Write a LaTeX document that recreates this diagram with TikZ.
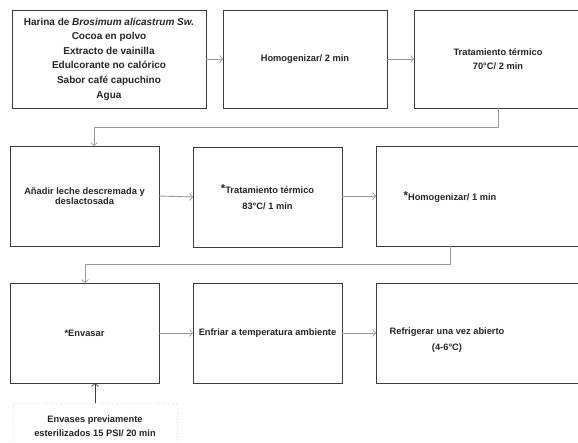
\documentclass[tikz,border=0pt]{standalone}
\usepackage{fontspec}
\setmainfont{Liberation Sans}
\usetikzlibrary{arrows.meta}
\definecolor{boxc}{HTML}{3C3C3C}
\definecolor{arrc}{HTML}{9A9A9A}
\definecolor{faint}{HTML}{E2E2E2}
\begin{document}
\begin{tikzpicture}[x=1pt,y=-1pt,
  stepbox/.style={draw=boxc, line width=0.9pt, inner sep=0pt, outer sep=0pt, rectangle},
  txt/.style={font=\bfseries\fontsize{9.3}{14}\selectfont, align=center, inner sep=0pt, text=black!85},
  arr/.style={draw=arrc, line width=0.9pt, -{Straight Barb[length=3pt,width=7pt,line width=0.7pt]}},
  arrdark/.style={draw=boxc, line width=0.9pt, -{Straight Barb[length=3pt,width=7pt,line width=0.7pt]}},
  bigast/.style={}]
\path[use as bounding box, clip] (0,0) rectangle (578,442);
\fill[white] (0,0) rectangle (578,442);
% row 1
\node[stepbox, minimum width=194pt, minimum height=98pt, txt, font=\bfseries\fontsize{10}{14.6}\selectfont] (b1) at (109,59)
  {Harina de \textit{Brosimum alicastrum Sw.}\\Cocoa en polvo\\Extracto de vainilla\\Edulcorante no calórico\\Sabor café capuchino\\Agua};
\node[stepbox, minimum width=164pt, minimum height=98pt, txt] (b2) at (305,59) {Homogenizar/ 2 min};
\node[stepbox, minimum width=168pt, minimum height=98pt, txt] (b3) at (498,59) {Tratamiento térmico\\70°C/ 2 min};
% row 2
\node[stepbox, minimum width=149pt, minimum height=100pt, txt, font=\bfseries\fontsize{9.3}{10.5}\selectfont] (b4) at (84.5,196) {Añadir leche descremada y\\deslactosada};
\node[stepbox, minimum width=149pt, minimum height=100pt, txt, font=\bfseries\fontsize{9.3}{16}\selectfont] (b5) at (267.5,197) {\raisebox{0.5pt}{\fontsize{11.5}{11.5}\selectfont*}Tratamiento térmico\\83°C/ 1 min};
\node[stepbox, minimum width=216pt, minimum height=100pt] (b6) at (484,196) {};
\node[txt] (t6) at (450,197) {\raisebox{0.5pt}{\fontsize{11.5}{11.5}\selectfont*}Homogenizar/ 1 min};
% row 3
\node[stepbox, minimum width=149pt, minimum height=100pt, txt] (b7) at (84.5,333) {*Envasar};
\node[stepbox, minimum width=149pt, minimum height=100pt, txt] (b8) at (267.5,333) {Enfriar a temperatura ambiente};
\node[stepbox, minimum width=216pt, minimum height=100pt] (b9) at (484,333) {};
\node[txt, font=\bfseries\fontsize{9.3}{16}\selectfont] (t9) at (447,340) {Refrigerar una vez abierto\\(4-6°C)};
% bottom
\node[draw=faint, line width=0.8pt, dotted, minimum width=164pt, minimum height=60pt, inner sep=0pt] (b10) at (95,433) {};
\node[txt] (t10) at (95,426) {Envases previamente\\esterilizados 15 PSI/ 20 min};
% connectors
\coordinate (c1) at (94,127);
\coordinate (c2) at (85,264);
\draw[arr] (b1.east) -- (b2.west);
\draw[arr] (b2.east) -- (b3.west);
\draw[arr] (b3.south) |- (c1) -- (c1 |- b4.north);
\draw[arr] (b4.east) -- (b5.west);
\draw[arr] (b5.east |- b4.east) -- (b6.west);
\draw[arr] (t6 |- b6.south) |- (c2) -- (c2 |- b7.north);
\draw[arr] (b7.east) -- (b8.west);
\draw[arr] (b8.east) -- (b9.west);
\draw[arrdark] (b10.north) -- (b10.north |- b7.south);
\end{tikzpicture}
\end{document}
